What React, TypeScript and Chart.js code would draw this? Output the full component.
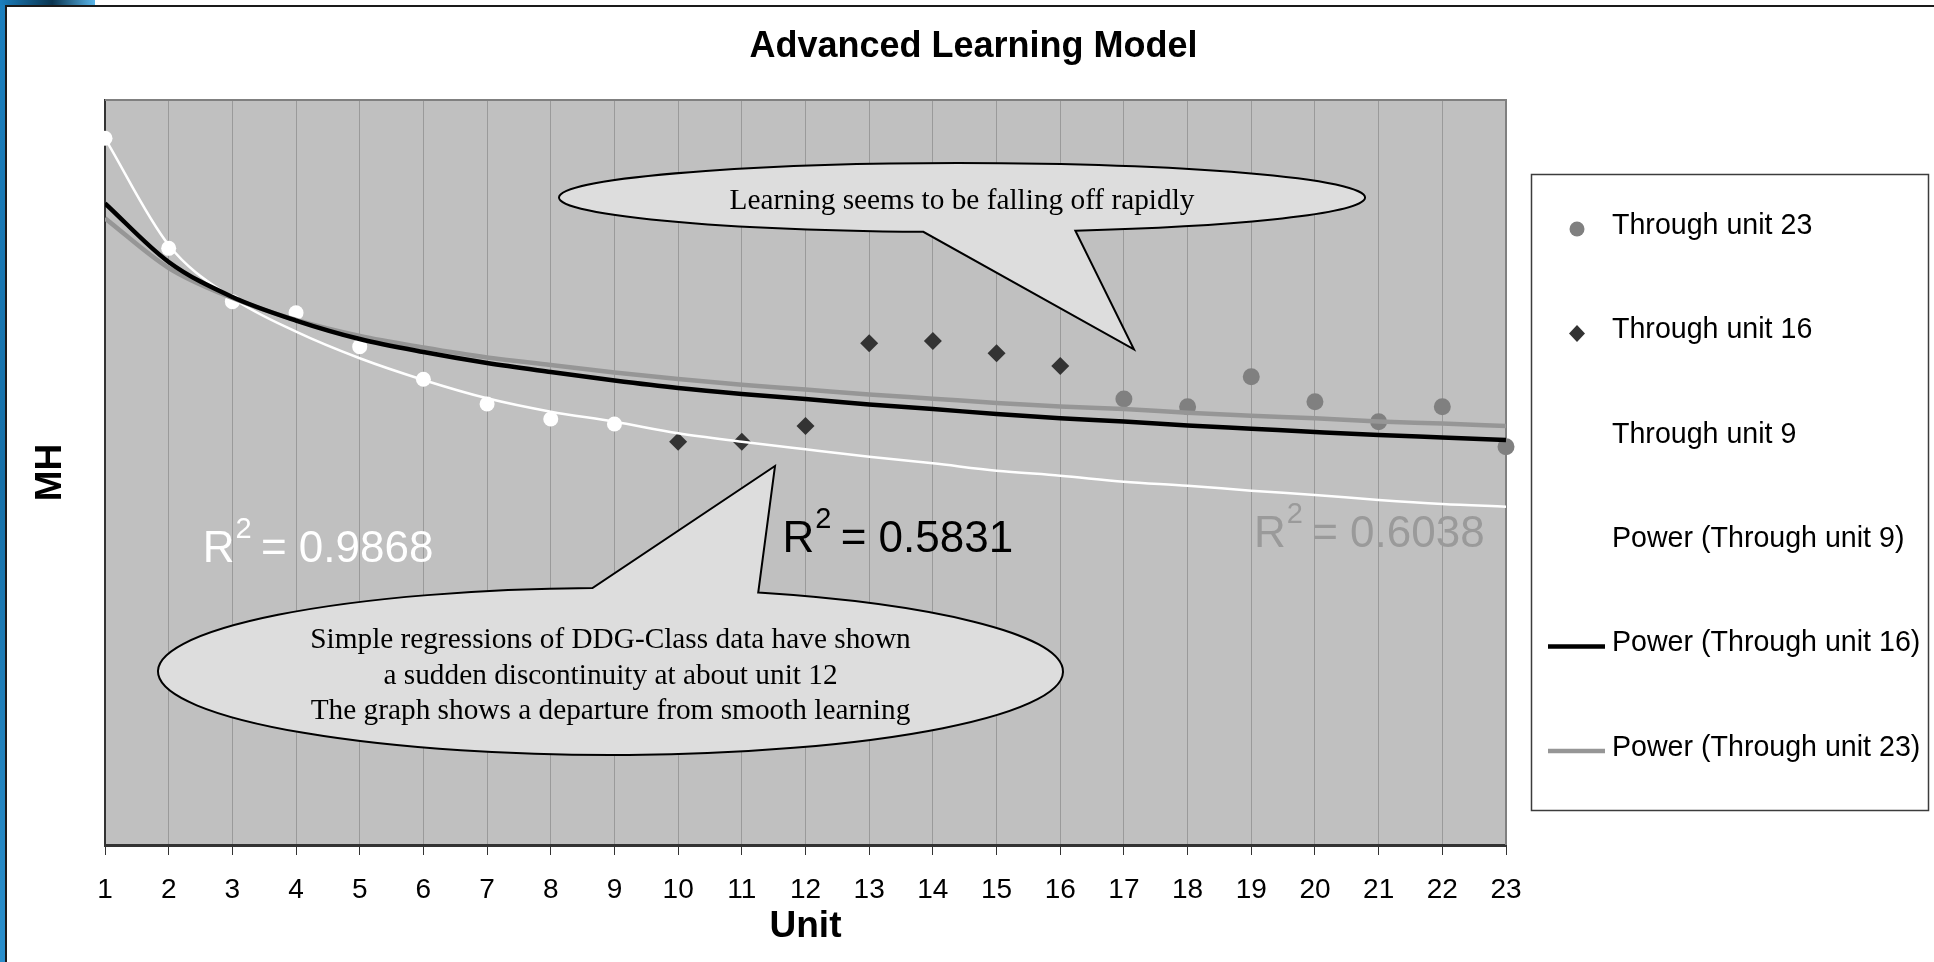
import React, { useEffect, useRef } from 'react';
import { Chart, registerables } from 'chart.js';

Chart.register(...registerables);

// ---------------- data ----------------
const UNITS = [1, 2, 3, 4, 5, 6, 7, 8, 9, 10, 11, 12, 13, 14, 15, 16, 17, 18, 19, 20, 21, 22, 23];

// observed man-hours (index units, y axis has no labels)
const MH_OBSERVED = [
  94.86, 80.09, 72.93, 71.45, 66.89, 62.51, 59.19, 57.18, 56.51, 54.13, 54.13, 56.24,
  67.34, 67.65, 66.0, 64.3, 59.87, 58.83, 62.86, 59.5, 56.82, 58.83, 53.46,
];

// power trend lines at each unit
const POWER_THROUGH_9 = [
  94.86, 80.54, 73.42, 68.9, 65.33, 62.42, 59.96, 58.16, 56.82, 55.26, 54.13, 53.11,
  52.12, 51.23, 50.24, 49.57, 48.77, 48.23, 47.56, 46.98, 46.31, 45.77, 45.41,
];
const POWER_THROUGH_16 = [
  86.13, 78.26, 73.56, 70.4, 67.92, 66.17, 64.7, 63.49, 62.35, 61.34, 60.54, 59.87,
  59.13, 58.52, 57.85, 57.27, 56.85, 56.31, 55.88, 55.44, 55.03, 54.7, 54.36,
];
const POWER_THROUGH_23 = [
  84.12, 77.45, 73.42, 70.47, 68.32, 66.78, 65.44, 64.43, 63.42, 62.55, 61.79, 61.14,
  60.47, 59.91, 59.33, 58.86, 58.52, 58.03, 57.62, 57.28, 56.85, 56.58, 56.24,
];

const SERIES_NAMES = [
  'Through unit 23',
  'Through unit 16',
  'Through unit 9',
  'Power (Through unit 9)',
  'Power (Through unit 16)',
  'Power (Through unit 23)',
];
const R_SQUARED = ['0.9868', '0.5831', '0.6038'];
const CHART_TITLE = 'Advanced Learning Model';
const X_TITLE = 'Unit';
const Y_TITLE = 'MH';
const NOTE_TOP = ['Learning seems to be falling off rapidly'];
const NOTE_BOTTOM = [
  'Simple regressions of DDG-Class data have shown',
  'a sudden discontinuity at about unit 12',
  'The graph shows a departure from smooth learning',
];

// ---------------- styling / layout ----------------
const SANS = '"Liberation Sans", Arial, Helvetica, sans-serif';
const SERIF = '"Liberation Serif", "Times New Roman", Times, serif';

const R2_STYLE = [
  { at: [2.536, 38.03], color: '#ffffff' },
  { at: [11.639, 39.37], color: '#000000' },
  { at: [19.044, 40.04], color: '#9a9a9a' },
];

const CALLOUTS = [
  {
    center: [14.458, 86.91], radii: [6.329, 4.631],
    base: [[13.866, 82.42], [16.256, 82.42]], tip: [17.157, 66.54],
    lines: NOTE_TOP, lineY: [85.33], font: 29.3,
  },
  {
    center: [8.938, 23.29], radii: [7.106, 11.21],
    base: [[8.648, 34.77], [11.333, 34.23]], tip: [11.521, 50.87],
    lines: NOTE_BOTTOM, lineY: [26.45, 21.67, 16.97], font: 29.3,
  },
];

const pts = (vals: number[], n: number) => UNITS.slice(0, n).map((u, i) => ({ x: u, y: vals[i] }));

const framePlugin = {
  id: 'frame',
  beforeDraw(chart: any) {
    const { ctx, width, height, chartArea: a } = chart;
    ctx.save();
    ctx.fillStyle = '#ffffff';
    ctx.fillRect(0, 0, width, height);
    const g = ctx.createLinearGradient(0, 0, 0, height);
    g.addColorStop(0, '#1b7fbe');
    g.addColorStop(0.5, '#1670a8');
    g.addColorStop(1, '#2a8fcc');
    ctx.fillStyle = g;
    ctx.fillRect(0, 0, 5, height);
    const g2 = ctx.createLinearGradient(0, 0, 95, 0);
    g2.addColorStop(0, '#1b7fbe');
    g2.addColorStop(0.55, '#0b3550');
    g2.addColorStop(1, '#5ab6ea');
    ctx.fillStyle = g2;
    ctx.fillRect(0, 0, 95, 5);
    ctx.fillStyle = '#1a1a1a';
    ctx.fillRect(5, 5, width - 5, 2);
    ctx.fillRect(5, 5, 2, height - 5);
    ctx.fillStyle = '#c0c0c0';
    ctx.fillRect(a.left, a.top, a.right - a.left, a.bottom - a.top);
    ctx.restore();
  },
  beforeDatasetsDraw(chart: any) {
    const { ctx, chartArea: a } = chart;
    ctx.save();
    ctx.strokeStyle = '#808080';
    ctx.lineWidth = 2;
    ctx.beginPath();
    ctx.moveTo(a.left, a.top);
    ctx.lineTo(a.right, a.top);
    ctx.lineTo(a.right, a.bottom);
    ctx.stroke();
    ctx.restore();
  },
};

function drawR2(ctx: CanvasRenderingContext2D, x: number, y: number, value: string, color: string) {
  ctx.fillStyle = color;
  ctx.textAlign = 'left';
  ctx.textBaseline = 'alphabetic';
  ctx.font = `44px ${SANS}`;
  ctx.fillText('R', x, y);
  let cx = x + ctx.measureText('R').width + 1;
  ctx.font = `29px ${SANS}`;
  ctx.fillText('2', cx, y - 24);
  cx += ctx.measureText('2').width - 3;
  ctx.font = `44px ${SANS}`;
  ctx.fillText(' = ' + value, cx, y);
}

const annotationPlugin = {
  id: 'notes',
  afterDatasetsDraw(chart: any) {
    const { ctx } = chart;
    const xs = chart.scales.x;
    const ys = chart.scales.y;
    ctx.save();
    CALLOUTS.forEach((c) => {
      const cx = xs.getPixelForValue(c.center[0]);
      const cy = ys.getPixelForValue(c.center[1]);
      const rx = Math.abs(xs.getPixelForValue(c.center[0] + c.radii[0]) - cx);
      const ry = Math.abs(ys.getPixelForValue(c.center[1] + c.radii[1]) - cy);
      const ang = (p: number[]) =>
        Math.atan2((ys.getPixelForValue(p[1]) - cy) / ry, (xs.getPixelForValue(p[0]) - cx) / rx);
      const a0 = ang(c.base[0]);
      const a1 = ang(c.base[1]);
      let d = a1 - a0;
      while (d > Math.PI) d -= 2 * Math.PI;
      while (d <= -Math.PI) d += 2 * Math.PI;
      ctx.beginPath();
      ctx.ellipse(cx, cy, rx, ry, 0, a0, a1, d > 0);
      ctx.lineTo(xs.getPixelForValue(c.tip[0]), ys.getPixelForValue(c.tip[1]));
      ctx.closePath();
      ctx.fillStyle = '#dddddd';
      ctx.fill();
      ctx.strokeStyle = '#000000';
      ctx.lineWidth = 2;
      ctx.lineJoin = 'miter';
      ctx.stroke();
      ctx.fillStyle = '#000000';
      ctx.textAlign = 'center';
      ctx.textBaseline = 'alphabetic';
      ctx.font = `${c.font}px ${SERIF}`;
      c.lines.forEach((t, i) => {
        ctx.fillText(t, cx, ys.getPixelForValue(c.lineY[i]));
      });
    });
    R2_STYLE.forEach((r, i) => {
      drawR2(ctx, xs.getPixelForValue(r.at[0]), ys.getPixelForValue(r.at[1]), R_SQUARED[i], r.color);
    });
    ctx.restore();
  },
};

const legendPlugin = {
  id: 'boxLegend',
  afterDraw(chart: any) {
    const { ctx } = chart;
    const box = { left: 1531, top: 174, right: 1928, bottom: 810 };
    const firstY = 225.5;
    const step = 104.4;
    ctx.save();
    ctx.strokeStyle = '#3c3c3c';
    ctx.lineWidth = 1.5;
    ctx.strokeRect(box.left + 0.5, box.top + 0.5, box.right - box.left, box.bottom - box.top);
    chart.data.datasets.forEach((ds: any, i: number) => {
      const y = firstY + i * step;
      const my = y + 3.5;
      if (ds.showLine) {
        ctx.strokeStyle = ds.borderColor;
        ctx.lineWidth = ds.borderWidth;
        ctx.beginPath();
        ctx.moveTo(1548, my);
        ctx.lineTo(1605, my);
        ctx.stroke();
      } else if (ds.pointStyle === 'rectRot') {
        ctx.fillStyle = ds.backgroundColor;
        ctx.beginPath();
        ctx.moveTo(1577 - 8, my);
        ctx.lineTo(1577, my - 8.5);
        ctx.lineTo(1577 + 8, my);
        ctx.lineTo(1577, my + 8.5);
        ctx.closePath();
        ctx.fill();
      } else {
        ctx.fillStyle = ds.backgroundColor;
        ctx.beginPath();
        ctx.arc(1577, my, 7.5, 0, Math.PI * 2);
        ctx.fill();
      }
      ctx.fillStyle = '#000000';
      ctx.textAlign = 'left';
      ctx.textBaseline = 'middle';
      ctx.font = `28.6px ${SANS}`;
      ctx.fillText(ds.label, 1612, y + 0.5);
    });
    ctx.restore();
  },
};

export default function App() {
  const ref = useRef<HTMLCanvasElement | null>(null);

  useEffect(() => {
    if (!ref.current) return;
    Chart.defaults.font.family = SANS;
    Chart.defaults.color = '#000000';
    const chart = new Chart(ref.current, {
      type: 'scatter',
      data: {
        datasets: [
          {
            label: SERIES_NAMES[0],
            data: pts(MH_OBSERVED, 23),
            pointStyle: 'circle',
            backgroundColor: '#808080',
            borderColor: '#808080',
            borderWidth: 0,
            pointRadius: (c: any) => (c.dataIndex >= 16 ? 8.5 : 0),
            pointHoverRadius: 0,
            showLine: false,
            clip: false,
            order: 6,
          },
          {
            label: SERIES_NAMES[1],
            data: pts(MH_OBSERVED, 16),
            pointStyle: 'rectRot',
            backgroundColor: '#333333',
            borderColor: '#333333',
            borderWidth: 0,
            pointRadius: (c: any) => (c.dataIndex >= 9 ? 9 : 0),
            pointHoverRadius: 0,
            showLine: false,
            clip: false,
            order: 5,
          },
          {
            label: SERIES_NAMES[2],
            data: pts(MH_OBSERVED, 9),
            pointStyle: 'circle',
            backgroundColor: '#ffffff',
            borderColor: '#ffffff',
            borderWidth: 0,
            pointRadius: 7.5,
            pointHoverRadius: 0,
            showLine: false,
            clip: false,
            order: 4,
          },
          {
            label: SERIES_NAMES[3],
            data: pts(POWER_THROUGH_9, 23),
            showLine: true,
            borderColor: '#ffffff',
            backgroundColor: '#ffffff',
            borderWidth: 2.5,
            pointRadius: 0,
            pointHoverRadius: 0,
            cubicInterpolationMode: 'monotone',
            order: 3,
          },
          {
            label: SERIES_NAMES[4],
            data: pts(POWER_THROUGH_16, 23),
            showLine: true,
            borderColor: '#000000',
            backgroundColor: '#000000',
            borderWidth: 4.5,
            pointRadius: 0,
            pointHoverRadius: 0,
            cubicInterpolationMode: 'monotone',
            order: 1,
          },
          {
            label: SERIES_NAMES[5],
            data: pts(POWER_THROUGH_23, 23),
            showLine: true,
            borderColor: '#969696',
            backgroundColor: '#969696',
            borderWidth: 4.5,
            pointRadius: 0,
            pointHoverRadius: 0,
            cubicInterpolationMode: 'monotone',
            order: 2,
          },
        ] as any,
      },
      options: {
        responsive: false,
        animation: false,
        devicePixelRatio: 1,
        events: [],
        layout: { padding: { left: 13, right: 0, top: 0, bottom: 0 } },
        plugins: {
          legend: { display: false },
          tooltip: { enabled: false },
          title: {
            display: true,
            text: CHART_TITLE,
            color: '#000000',
            font: { family: SANS, size: 36, weight: 'bold' },
            padding: { top: 25.7, bottom: 31.1 },
          },
        },
        scales: {
          x: {
            type: 'linear',
            position: 'bottom',
            min: 1,
            max: 23,
            afterFit: (s: any) => {
              s.height = 117;
            },
            ticks: {
              stepSize: 1,
              autoSkip: false,
              maxRotation: 0,
              color: '#000000',
              padding: 18,
              font: { family: SANS, size: 28 },
            },
            grid: {
              color: '#9a9a9a',
              lineWidth: 1,
              drawTicks: true,
              tickLength: 10,
              tickColor: '#333333',
              tickWidth: 1,
            },
            border: { display: true, color: '#333333', width: 3 },
            title: {
              display: true,
              text: X_TITLE,
              color: '#000000',
              font: { family: SANS, size: 37, weight: 'bold' },
              padding: { top: 0, bottom: 13.4 },
            },
          },
          y: {
            type: 'linear',
            position: 'left',
            min: 0,
            max: 100,
            afterFit: (s: any) => {
              s.width = 92;
            },
            ticks: { display: false },
            grid: { display: false },
            border: { display: true, color: '#333333', width: 2 },
            title: {
              display: true,
              text: Y_TITLE,
              color: '#000000',
              font: { family: SANS, size: 37, weight: 'bold' },
              padding: { top: 15.3, bottom: 0 },
            },
          },
          legendSpace: {
            type: 'linear',
            position: 'right',
            display: true,
            afterFit: (s: any) => {
              s.width = 428;
            },
            ticks: { display: false },
            grid: { display: false },
            border: { display: false },
          },
        },
      } as any,
      plugins: [framePlugin, annotationPlugin, legendPlugin],
    });
    return () => chart.destroy();
  }, []);

  return (
    <div style={{ position: 'absolute', left: 0, top: 0, width: 1934, height: 962, overflow: 'hidden' }}>
      <canvas ref={ref} width={1934} height={962} style={{ width: 1934, height: 962, display: 'block' }} />
    </div>
  );
}
